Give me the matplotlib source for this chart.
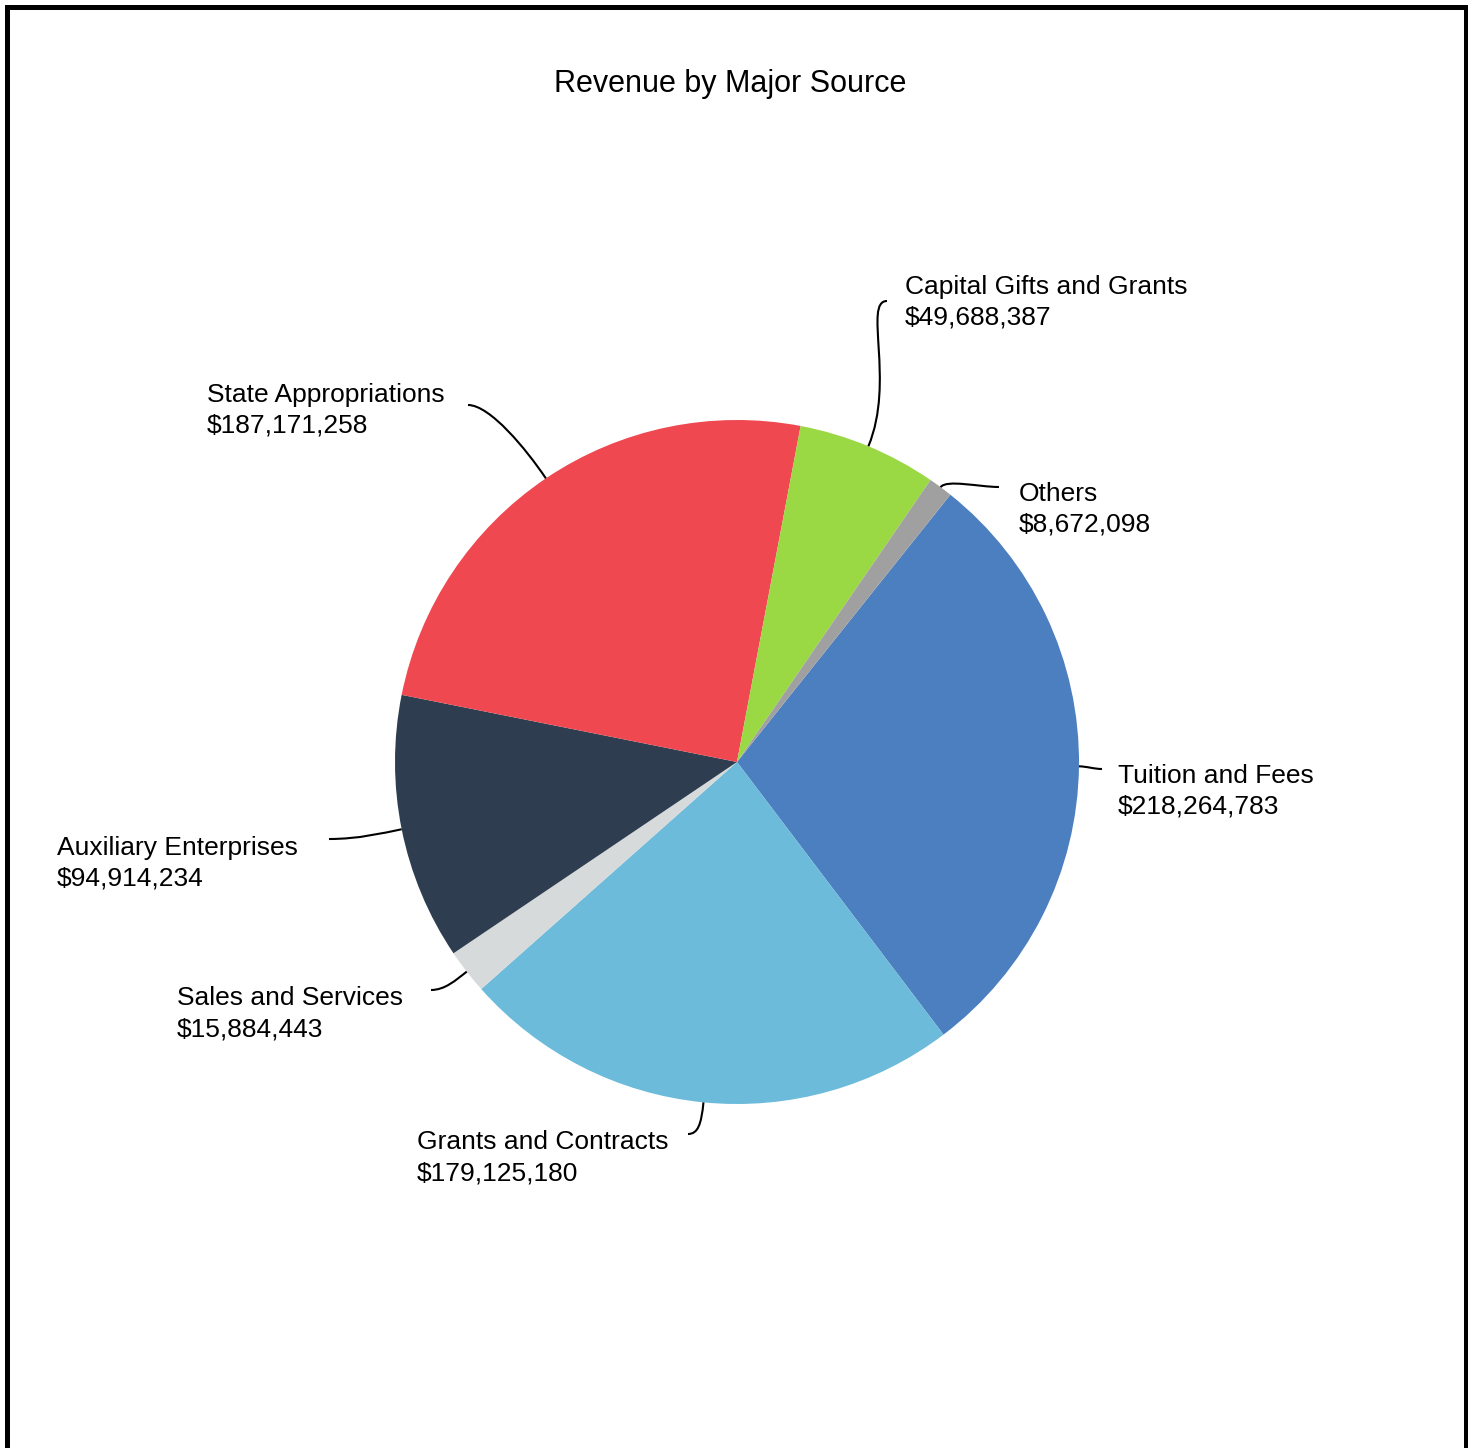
import matplotlib
matplotlib.use('Agg')
import matplotlib.pyplot as plt
import numpy as np
from matplotlib.path import Path
from matplotlib.patches import PathPatch
from matplotlib.lines import Line2D

# revenue sources, in clockwise order starting at the top right
sources = ["Tuition and Fees", "Grants and Contracts", "Sales and Services",
           "Auxiliary Enterprises", "State Appropriations",
           "Capital Gifts and Grants", "Others"]
amounts = [218264783, 179125180, 15884443, 94914234, 187171258, 49688387, 8672098]
colors = ["#4c7fc0", "#6cbbda", "#d6dadb", "#2e3e50", "#ef4850", "#9ad944", "#a0a0a0"]

# layout (pixels in the 1468x1448 picture)
W, H = 1468, 1448
CX, CY, R = 737, 762, 342
# label text position: left x, first baseline y
label_pos = [(1118, 783), (417, 1149), (177, 1005), (57, 855),
             (207, 402), (905, 294), (1019, 501)]
# leader line: end point, radial pull, horizontal pull
leader = [((1102, 769), 8, 8), ((688, 1134), 22, 10), ((431, 990), 14, 14),
          ((329, 839), 20, 30), ((468, 405), 35, 22), ((887, 301), 70, 24),
          ((999, 487), 10, 20)]


def px(x, y):
    return (x - CX) / R, (CY - y) / R


plt.rcParams['font.family'] = ['Liberation Sans', 'DejaVu Sans']

fig = plt.figure(figsize=(W / 100, H / 100), dpi=100)
ax = fig.add_axes([0, 0, 1, 1])
wedges, _ = ax.pie(amounts, colors=colors, startangle=51.4, counterclock=False,
                   radius=1, center=(0, 0), wedgeprops=dict(linewidth=0))
ax.set_xlim(-CX / R, (W - CX) / R)
ax.set_ylim((CY - H) / R, CY / R)
ax.set_aspect('auto')
ax.axis('off')

for w, name, amt, (lx, ly), (end, a, b) in zip(wedges, sources, amounts, label_pos, leader):
    mid = np.deg2rad((w.theta1 + w.theta2) / 2)
    d = np.array([np.cos(mid), np.sin(mid)])
    p0 = d * 1.0
    p1 = p0 + d * a / R
    p3 = np.array(px(*end))
    side = 1 if lx > CX else -1
    p2 = p3 - np.array([side * b / R, 0])
    path = Path([p0, p1, p2, p3], [Path.MOVETO, Path.CURVE4, Path.CURVE4, Path.CURVE4])
    ax.add_patch(PathPatch(path, fill=False, lw=1.5, ec='black'))
    ax.text(*px(lx, ly), name, fontsize=19, ha='left', va='baseline')
    ax.text(*px(lx, ly + 31), f"${amt:,}", fontsize=19, ha='left', va='baseline')

ax.text(*px(730, 92), "Revenue by Major Source", fontsize=22, ha='center', va='baseline')

# frame round the picture (no bottom edge)
fig.add_artist(Line2D([6.5 / W, 6.5 / W, 1466 / W, 1466 / W],
                      [0, 1 - 6.5 / H, 1 - 6.5 / H, 0],
                      transform=fig.transFigure, color='black', lw=3.6,
                      solid_joinstyle='miter'))

plt.savefig('out.png', dpi=100)
